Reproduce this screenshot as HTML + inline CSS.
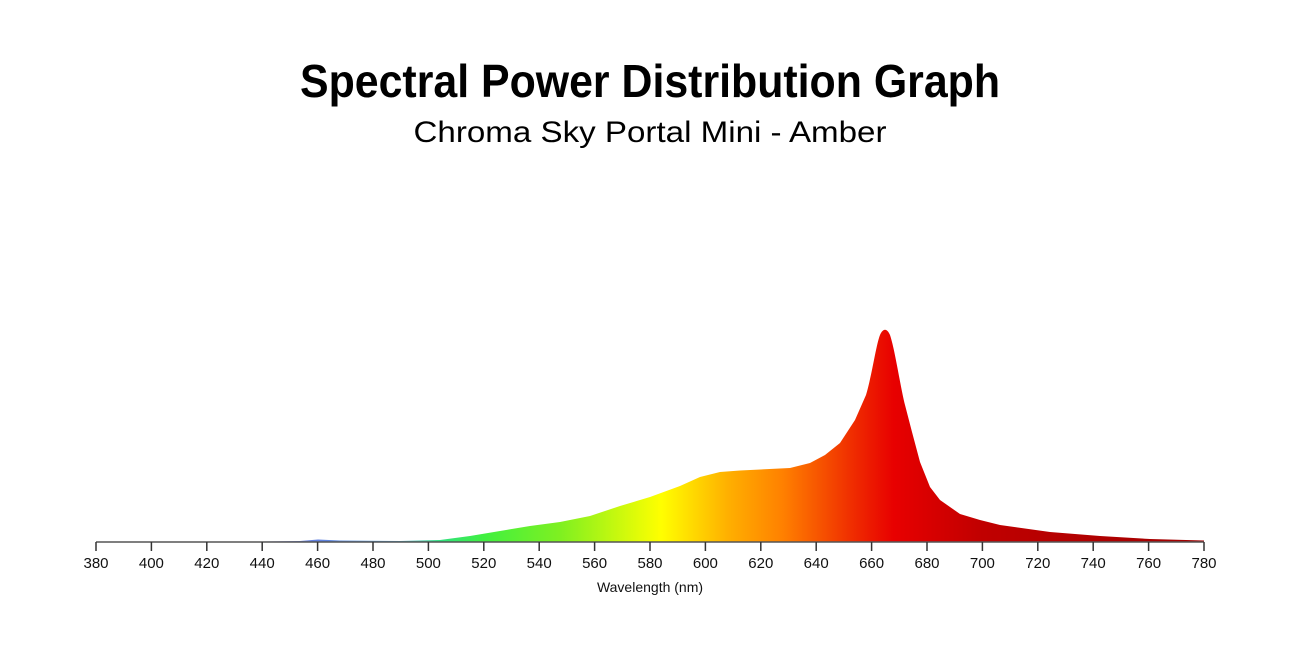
<!DOCTYPE html>
<html><head><meta charset="utf-8"><style>html,body{margin:0;padding:0;background:#fff}svg{display:block}</style></head>
<body>
<svg width="1300" height="650" viewBox="0 0 1300 650" xmlns="http://www.w3.org/2000/svg">
<defs>
<linearGradient id="g" gradientUnits="userSpaceOnUse" x1="96" y1="0" x2="1204" y2="0">
<stop offset="0.11" stop-color="#9080d0"/>
<stop offset="0.2" stop-color="#6080e0"/>
<stop offset="0.27" stop-color="#50a0d0"/>
<stop offset="0.31" stop-color="#30e080"/>
<stop offset="0.35" stop-color="#40f040"/>
<stop offset="0.42" stop-color="#80f020"/>
<stop offset="0.51" stop-color="#ffff00"/>
<stop offset="0.57" stop-color="#ffb000"/>
<stop offset="0.62" stop-color="#ff8000"/>
<stop offset="0.68" stop-color="#f03000"/>
<stop offset="0.72" stop-color="#e80000"/>
<stop offset="0.8" stop-color="#c00000"/>
<stop offset="1" stop-color="#a00000"/>
</linearGradient>
</defs>
<text x="650" y="97" text-anchor="middle" font-family="Liberation Sans, sans-serif" font-weight="bold" font-size="46" textLength="700" lengthAdjust="spacingAndGlyphs" fill="#000">Spectral Power Distribution Graph</text>
<text x="650" y="142" text-anchor="middle" font-family="Liberation Sans, sans-serif" font-size="30" textLength="473" lengthAdjust="spacingAndGlyphs" fill="#000">Chroma Sky Portal Mini - Amber</text>
<path fill="url(#g)" d="M230,542 L300,541 L318,539.5 L340,540.5 L400,541 L440,540 L470,536 L500,531 L530,526 L560,522 L590,516 L620,506 L650,497 L680,486 L700,477 L720,472 L740,470.5 L790,468 L810,463 L825,455 L840,443 L855,420 L866,395 C872,375 876,345 880,335 C883,328 887,328 890,335 C895,350 900,385 905,405 L912,432 L920,462 L930,487 L940,500 L960,514 L980,520 L1000,525 L1050,532 L1100,536 L1150,539 L1204,540.5 L1204,542 Z"/>
<line x1="96" y1="542" x2="1204" y2="542" stroke="#555" stroke-width="1.5"/>
<g stroke="#333" stroke-width="1.5">
<line x1="96" y1="542" x2="96" y2="551"/><line x1="151.4" y1="542" x2="151.4" y2="551"/><line x1="206.8" y1="542" x2="206.8" y2="551"/><line x1="262.2" y1="542" x2="262.2" y2="551"/><line x1="317.6" y1="542" x2="317.6" y2="551"/><line x1="373" y1="542" x2="373" y2="551"/><line x1="428.4" y1="542" x2="428.4" y2="551"/><line x1="483.8" y1="542" x2="483.8" y2="551"/><line x1="539.2" y1="542" x2="539.2" y2="551"/><line x1="594.6" y1="542" x2="594.6" y2="551"/><line x1="650" y1="542" x2="650" y2="551"/><line x1="705.4" y1="542" x2="705.4" y2="551"/><line x1="760.8" y1="542" x2="760.8" y2="551"/><line x1="816.2" y1="542" x2="816.2" y2="551"/><line x1="871.6" y1="542" x2="871.6" y2="551"/><line x1="927" y1="542" x2="927" y2="551"/><line x1="982.4" y1="542" x2="982.4" y2="551"/><line x1="1037.8" y1="542" x2="1037.8" y2="551"/><line x1="1093.2" y1="542" x2="1093.2" y2="551"/><line x1="1148.6" y1="542" x2="1148.6" y2="551"/><line x1="1204" y1="542" x2="1204" y2="551"/>
</g>
<g font-family="Liberation Sans, sans-serif" font-size="15" text-anchor="middle" fill="#111">
<text x="96" y="568">380</text><text x="151.4" y="568">400</text><text x="206.8" y="568">420</text><text x="262.2" y="568">440</text><text x="317.6" y="568">460</text><text x="373" y="568">480</text><text x="428.4" y="568">500</text><text x="483.8" y="568">520</text><text x="539.2" y="568">540</text><text x="594.6" y="568">560</text><text x="650" y="568">580</text><text x="705.4" y="568">600</text><text x="760.8" y="568">620</text><text x="816.2" y="568">640</text><text x="871.6" y="568">660</text><text x="927" y="568">680</text><text x="982.4" y="568">700</text><text x="1037.8" y="568">720</text><text x="1093.2" y="568">740</text><text x="1148.6" y="568">760</text><text x="1204" y="568">780</text>
<text x="650" y="592" font-size="14">Wavelength (nm)</text>
</g>
</svg>
</body></html>
